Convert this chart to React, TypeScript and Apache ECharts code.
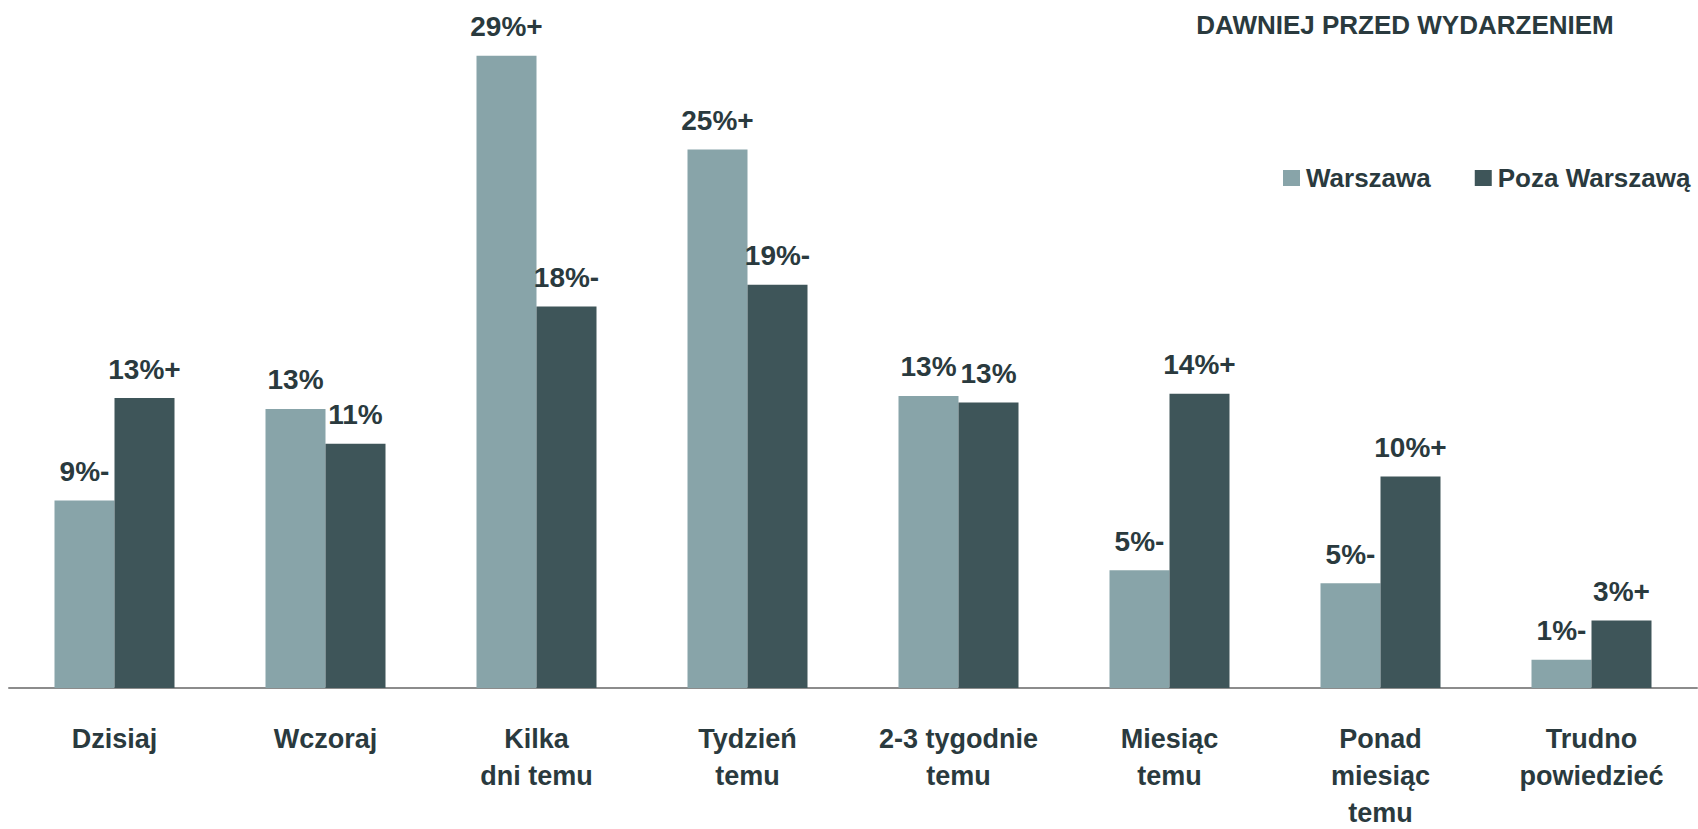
import React, { useEffect, useRef } from "react";
import * as echarts from "echarts";

const categories = [
  "Dzisiaj",
  "Wczoraj",
  "Kilka\ndni temu",
  "Tydzień\ntemu",
  "2-3 tygodnie\ntemu",
  "Miesiąc\ntemu",
  "Ponad\nmiesiąc\ntemu",
  "Trudno\npowiedzieć",
];
const warszawa = [8.6, 12.8, 29.0, 24.7, 13.4, 5.4, 4.8, 1.3];
const pozaWarszawa = [13.3, 11.2, 17.5, 18.5, 13.1, 13.5, 9.7, 3.1];
const warszawaLabels = ["9%-", "13%", "29%+", "25%+", "13%", "5%-", "5%-", "1%-"];
const pozaLabels = ["13%+", "11%", "18%-", "19%-", "13%", "14%+", "10%+", "3%+"];
const titleText = "DAWNIEJ PRZED WYDARZENIEM";

const FONT = "'Liberation Sans Narrow', 'Arial Narrow', 'Liberation Sans', Arial, sans-serif";
const TEXT = "#2a3a3e";
const LIGHT = "#88a4a9";
const DARK = "#3e5559";
const EXTRA = 250;

export default function App() {
  const ref = useRef<HTMLDivElement>(null);
  useEffect(() => {
    if (!ref.current) return;
    const chart = echarts.init(ref.current, undefined, { renderer: "svg" });
    const labelStyle = (labels: string[]) => ({
      show: true,
      position: "top",
      distance: 14,
      formatter: (p: any) => labels[p.dataIndex],
      fontFamily: FONT,
      fontWeight: "bold",
      fontSize: 28,
      lineHeight: 30,
      color: TEXT,
    });
    chart.setOption({
      animation: false,
      textStyle: { fontFamily: FONT },
      graphic: [
        {
          type: "text",
          x: 1405,
          y: 25,
          style: {
            text: titleText,
            fontFamily: FONT,
            fontWeight: "bold",
            fontSize: 26,
            fill: TEXT,
            textAlign: "center",
            textVerticalAlign: "middle",
          },
        },
      ],
      legend: {
        left: 1283,
        top: 163,
        padding: 0,
        orient: "horizontal",
        itemWidth: 17,
        itemHeight: 16,
        itemGap: 44,
        icon: "rect",
        textStyle: {
          fontFamily: FONT,
          fontWeight: "bold",
          fontSize: 26,
          lineHeight: 30,
          color: TEXT,
          padding: [0, 0, 0, 1],
        },
        data: ["Warszawa", "Poza Warszawą"],
      },
      grid: { left: 9, right: 1 + EXTRA, top: 34, bottom: 141, outerBoundsMode: "none", containLabel: false },
      xAxis: {
        type: "category",
        data: categories,
        axisLine: { lineStyle: { color: "#8c8c8c", width: 2 } },
        axisTick: { show: false },
        axisLabel: {
          margin: 32,
          interval: 0,
          fontFamily: FONT,
          fontWeight: "bold",
          fontSize: 27,
          lineHeight: 37,
          color: TEXT,
        },
      },
      yAxis: { type: "value", min: 0, max: 30, show: false, splitLine: { show: false } },
      series: [
        {
          name: "Warszawa",
          type: "bar",
          data: warszawa,
          barWidth: 60,
          barGap: "0%",
          itemStyle: { color: LIGHT },
          label: labelStyle(warszawaLabels),
        },
        {
          name: "Poza Warszawą",
          type: "bar",
          data: pozaWarszawa,
          barWidth: 60,
          itemStyle: { color: DARK },
          label: labelStyle(pozaLabels),
        },
      ],
    });
    return () => chart.dispose();
  }, []);
  return (
    <div
      style={{
        position: "fixed",
        left: 0,
        top: 0,
        width: 1698,
        height: 829,
        overflow: "hidden",
        background: "#fff",
      }}
    >
      <div ref={ref} style={{ width: 1698 + EXTRA, height: 829 }} />
    </div>
  );
}
